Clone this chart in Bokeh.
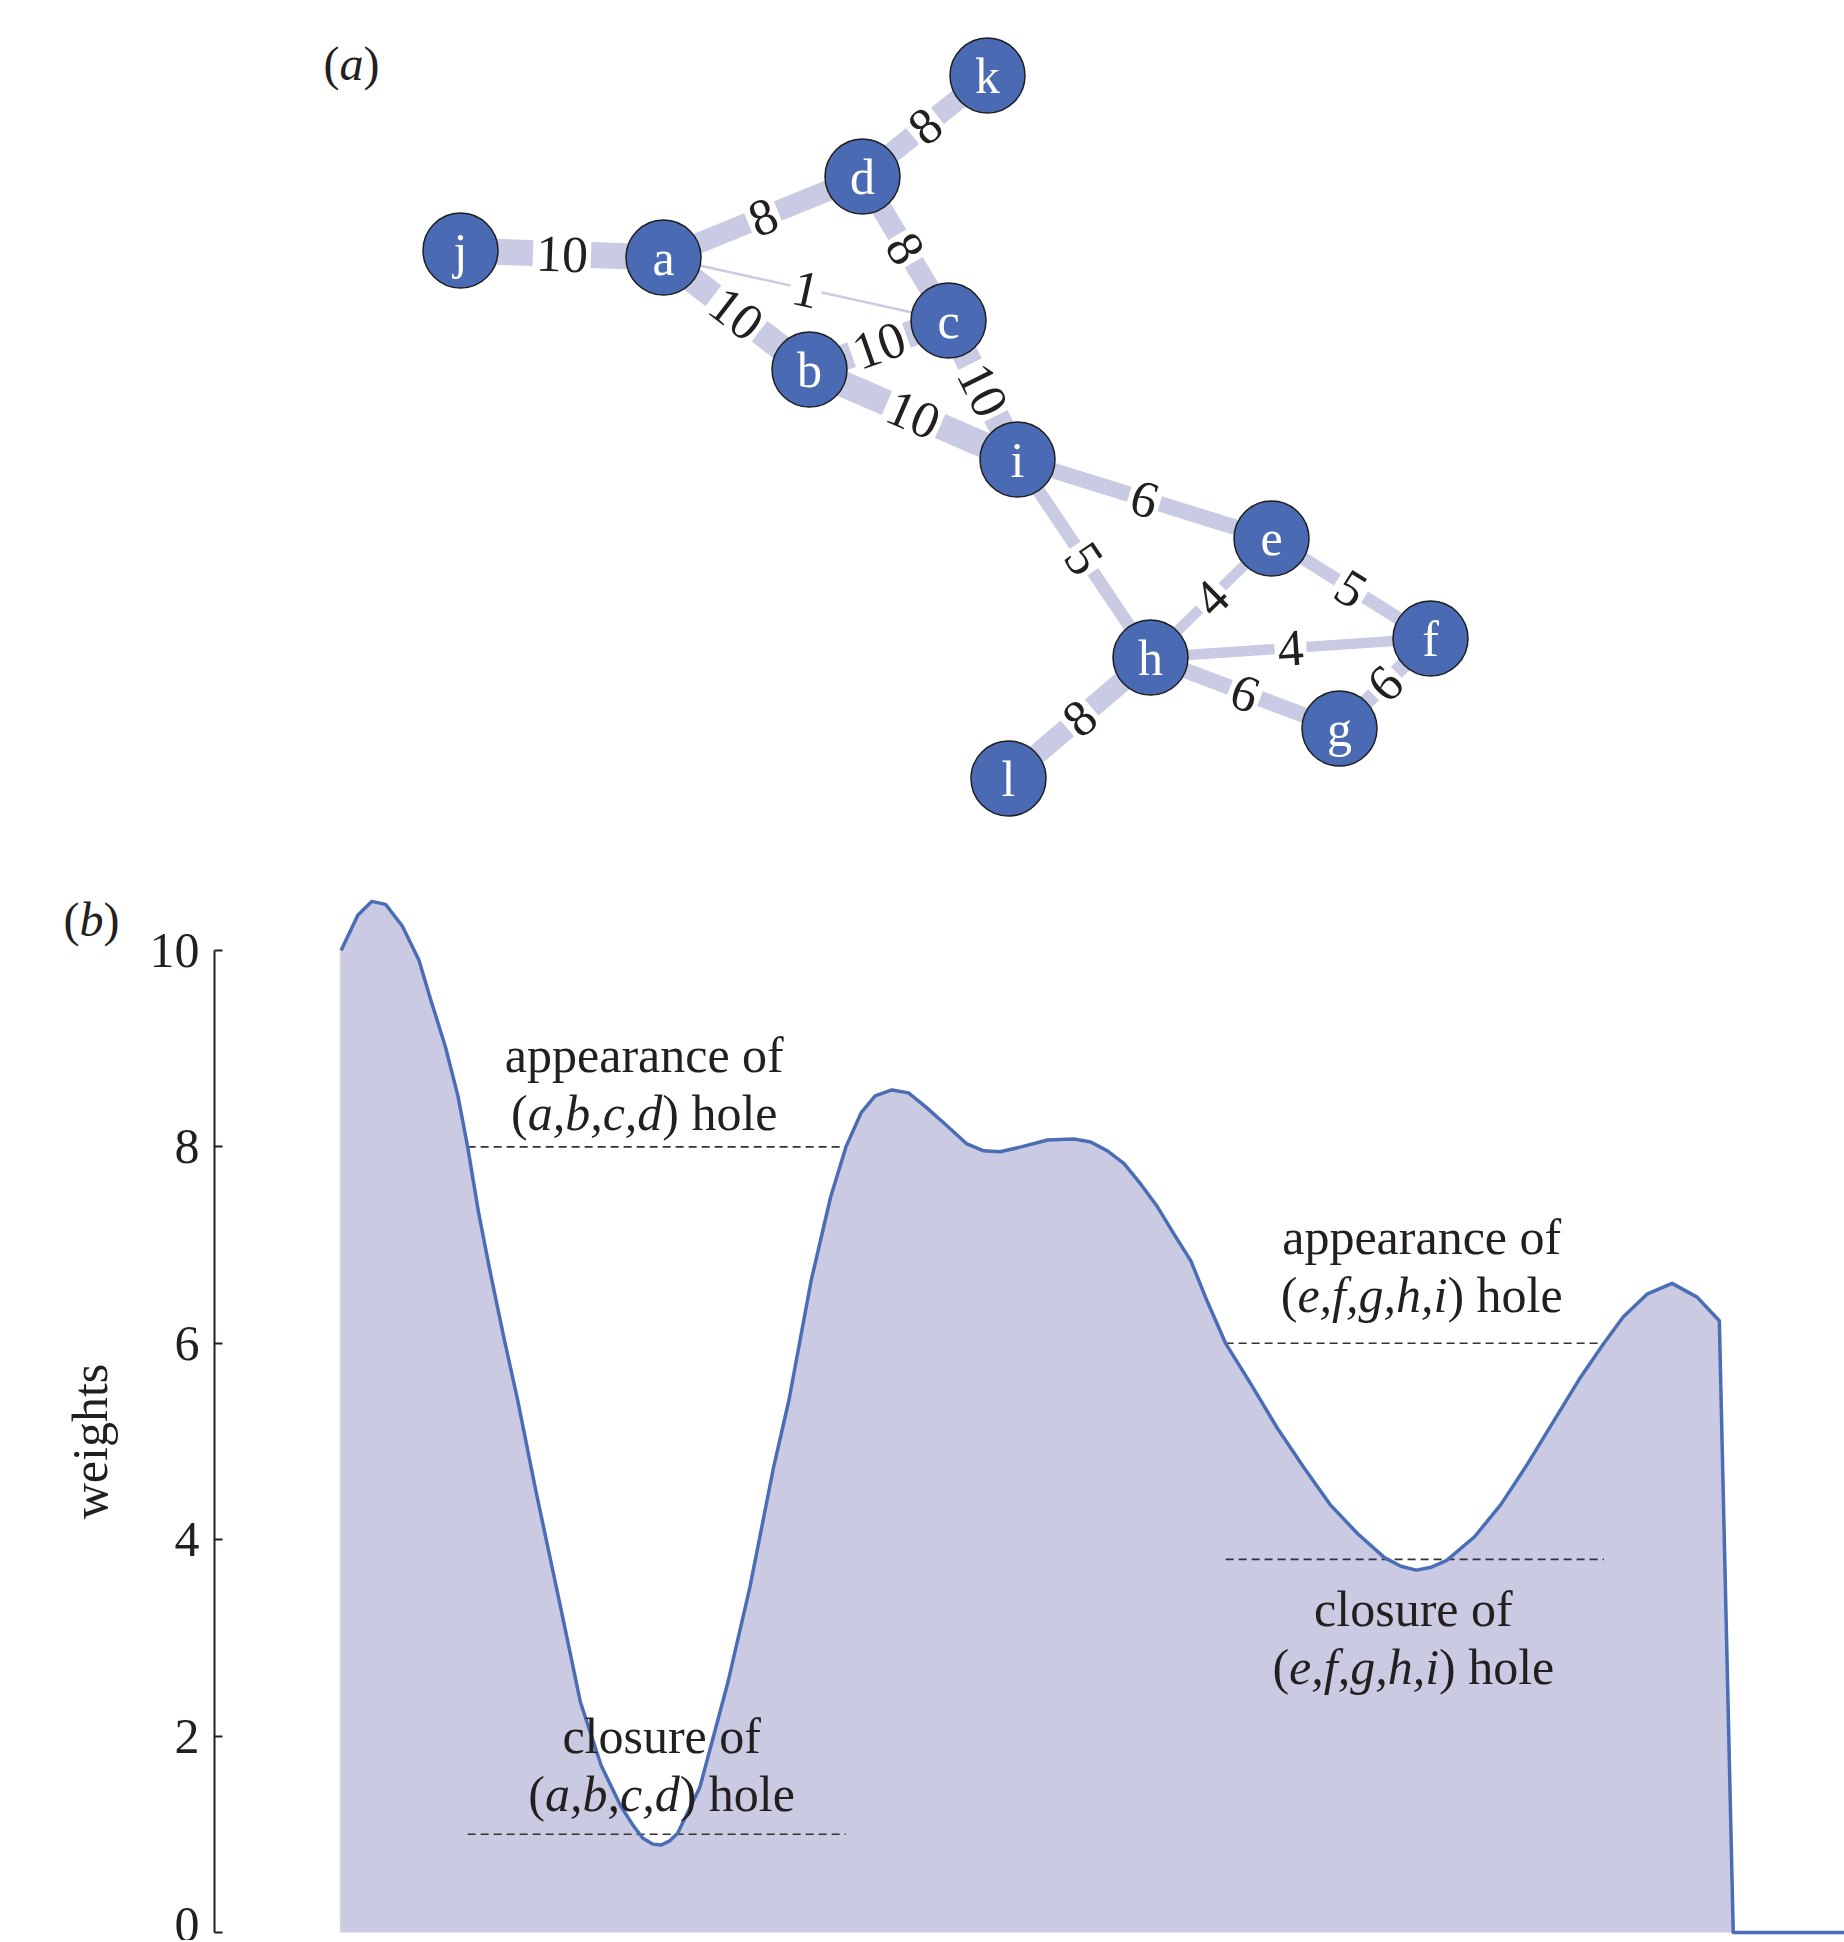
import math
from bokeh.plotting import figure
from bokeh.layouts import column
from bokeh.models import Range1d, FixedTicker, ColumnDataSource
from bokeh.embed import file_html
from bokeh.resources import INLINE
from bokeh.core.properties import value

# ---------------- panel (a): weighted graph ----------------
node_names = ["j", "a", "d", "k", "c", "b", "i", "e", "f", "h", "g", "l"]
node_x = [452, 655, 854, 979, 940, 801, 1009, 1263, 1422, 1142, 1331, 1000]
node_y = [608, 601, 682, 783, 538, 489, 399, 320, 220, 201, 130, 80]

edge_src = ["j", "a", "d", "d", "a", "a", "b", "c", "b", "i", "i", "e", "e", "h", "h", "g", "h"]
edge_dst = ["a", "d", "k", "c", "c", "b", "c", "i", "i", "e", "h", "h", "f", "f", "g", "f", "l"]
edge_weight = [10, 8, 8, 8, 1, 10, 10, 10, 10, 6, 5, 4, 5, 4, 6, 6, 8]

# ---------------- panel (b): weights along filtration ----------------
filtration = [0.0, 1.2, 2.2, 3.2, 4.4, 5.6, 6.4, 7.5, 8.4, 9.1, 9.9, 10.7, 11.7, 12.7,
              14.0, 15.8, 17.2, 18.7, 20.1, 21.0, 21.7, 22.4, 23.0, 23.6, 24.2, 25.8,
              27.8, 29.4, 31.1, 32.2, 33.8, 35.2, 36.3, 37.4, 38.4, 39.6, 40.8, 42.1,
              43.6, 45.0, 46.2, 47.4, 48.9, 50.8, 52.7, 53.9, 55.1, 56.3, 57.5, 58.7,
              59.9, 61.1, 62.3, 63.6, 65.4, 67.3, 69.2, 71.1, 73.1, 75.0, 76.2, 77.3,
              78.4, 79.5, 81.5, 83.4, 85.3, 87.2, 89.1, 90.8, 92.2, 93.9, 95.7, 97.5,
              99.1, 100.1, 109.0]
weights = [10.00, 10.36, 10.50, 10.47, 10.25, 9.90, 9.52, 9.02, 8.52, 8.00, 7.32, 6.74,
           6.06, 5.42, 4.50, 3.30, 2.35, 1.70, 1.29, 1.09, 0.96, 0.90, 0.89, 0.93, 1.01,
           1.48, 2.54, 3.52, 4.74, 5.42, 6.64, 7.49, 8.00, 8.35, 8.52, 8.58, 8.55, 8.40,
           8.21, 8.03, 7.96, 7.95, 8.00, 8.07, 8.08, 8.05, 7.96, 7.83, 7.62, 7.39, 7.11,
           6.84, 6.42, 6.00, 5.59, 5.14, 4.74, 4.36, 4.06, 3.82, 3.73, 3.69, 3.72, 3.79,
           4.03, 4.36, 4.77, 5.21, 5.65, 6.00, 6.27, 6.50, 6.61, 6.47, 6.23, 0.00, 0.00]
ytick_values = [0, 2, 4, 6, 8, 10]

hole_level = [8.0, 1.0, 6.0, 3.8]
hole_start = [9.1, 9.1, 63.6, 63.6]
hole_end = [36.3, 36.3, 90.8, 90.8]

annot_first = ["appearance of", "closure of", "appearance of", "closure of"]
annot_members = ["a,b,c,d", "a,b,c,d", "e,f,g,h,i", "e,f,g,h,i"]
annot_x = [21.8, 23.05, 77.7, 77.1]
annot_y = [8.94, 2.00, 7.08, 3.29]

# ---------------- styling ----------------
FONT = "Liberation Serif"
INK = "#231F20"
EDGE = "#C9CAE3"
FILL = "#CACBE3"
NODE = "#4A6BB3"
BLUE = "#4A6DB5"

W = 1844
HA = 858
HB = 1082
PX_PER_W = 98.2           # screen px per weight unit in panel (b)
LINE_GAP = 58 / PX_PER_W  # second text line below first

ROMAN = {"(": 333, ")": 333, " ": 250, ",": 250, "a": 444, "b": 500, "c": 444, "d": 500,
         "e": 444, "f": 333, "g": 500, "h": 500, "i": 278, "l": 278, "n": 500, "o": 500,
         "p": 500, "r": 333, "s": 389, "t": 278, "u": 500, "w": 722}
ITALIC = {",": 250, "a": 500, "b": 500, "c": 444, "d": 500, "e": 444, "f": 278,
          "g": 500, "h": 500, "i": 278}


def seg_width(s, italic, size):
    tbl = ITALIC if italic else ROMAN
    return sum(tbl.get(ch, 500) for ch in s) * size / 1000.0


def layout_parts(parts, size, centered=True):
    widths = [seg_width(s, it, size) for s, it in parts]
    off = -sum(widths) / 2.0 if centered else 0.0
    out = []
    for (s, it), wd in zip(parts, widths):
        out.append((s, it, off))
        off += wd
    return out


def mixed_text(p, xs, ys, parts_list, size, centered=True):
    rom = dict(x=[], y=[], text=[], xo=[])
    ita = dict(x=[], y=[], text=[], xo=[])
    for cx, cy, parts in zip(xs, ys, parts_list):
        for s, it, off in layout_parts(parts, size, centered):
            d = ita if it else rom
            d["x"].append(cx)
            d["y"].append(cy)
            d["text"].append(s)
            d["xo"].append(off)
    for d, style in ((rom, "normal"), (ita, "italic")):
        p.text(x="x", y="y", text="text", x_offset="xo", source=ColumnDataSource(d),
               text_font=value(FONT), text_font_size=f"{size}px", text_color=INK,
               text_font_style=style, text_align="left", text_baseline="alphabetic")


# ================= figure (a) =================
pa = figure(width=W, height=HA, x_range=Range1d(-8, W - 8), y_range=Range1d(0, HA),
            output_backend="svg", toolbar_location=None,
            x_axis_location=None, y_axis_location=None, min_border=0,
            outline_line_color=None)
pa.xgrid.visible = False
pa.ygrid.visible = False

pos = dict(zip(node_names, zip(node_x, node_y)))
ex0 = [pos[s][0] for s in edge_src]
ey0 = [pos[s][1] for s in edge_src]
ex1 = [pos[d][0] for d in edge_dst]
ey1 = [pos[d][1] for d in edge_dst]
ewidth = [2.6 * w for w in edge_weight]
pa.segment(x0=ex0, y0=ey0, x1=ex1, y1=ey1, line_width=ewidth,
           line_color=EDGE, line_cap="butt")

mx = [(a + b) / 2.0 for a, b in zip(ex0, ex1)]
my = [(a + b) / 2.0 for a, b in zip(ey0, ey1)]
angles = []
for x0, y0, x1, y1 in zip(ex0, ey0, ex1, ey1):
    ang = math.atan2(y1 - y0, x1 - x0)
    if ang > math.pi / 2:
        ang -= math.pi
    if ang < -math.pi / 2:
        ang += math.pi
    angles.append(ang)
pa.text(x=mx, y=my, text=[str(w) for w in edge_weight], angle=angles,
        text_font=value(FONT), text_font_size="52px", text_color=INK,
        text_align="center", text_baseline="middle",
        background_fill_color="white", padding=3)

pa.scatter(x=node_x, y=node_y, size=75, fill_color=NODE, line_color="#1E1E1E",
           line_width=1.5)
pa.text(x=node_x, y=node_y, text=node_names, text_font=value(FONT),
        text_font_size="50px", text_color="white", text_align="center",
        text_baseline="middle")

# panel tag "(a)"
mixed_text(pa, [315], [795], [[("(", False), ("a", True), (")", False)]], 48, centered=False)

# ================= figure (b) =================
T_START = -24.49
T_END = 108.1
AXIS_T = -9.10
pb = figure(width=W, height=HB, x_range=Range1d(T_START, T_END),
            y_range=Range1d(-0.0815, 10.937),
            output_backend="svg", toolbar_location=None,
            x_axis_location=None, y_axis_location="left",
            min_border=0, outline_line_color=None)
pb.xgrid.visible = False
pb.ygrid.visible = False

ax = pb.yaxis[0]
ax.fixed_location = AXIS_T
ax.ticker = FixedTicker(ticks=ytick_values)
ax.bounds = (0, 10)
ax.major_tick_in = 8
ax.major_tick_out = 0
ax.minor_tick_in = 0
ax.minor_tick_out = 0
ax.axis_line_width = 2
ax.axis_line_color = INK
ax.major_tick_line_width = 2
ax.major_tick_line_color = INK
ax.major_label_text_font = FONT
ax.major_label_text_font_size = "50px"
ax.major_label_text_color = INK
ax.major_label_standoff = 15

pb.varea(x=filtration, y1=0, y2=weights, fill_color=FILL)
pb.segment(x0=[filtration[0]], y0=[0], x1=[filtration[0]], y1=[weights[0]],
           line_color="#d4d4d4", line_width=2.5)
pb.segment(x0=hole_start, y0=hole_level, x1=hole_end, y1=hole_level,
           line_color="#333333", line_width=1.6, line_dash="8 5")
pb.line(x=filtration, y=weights, line_color=BLUE, line_width=3.5, line_join="round")

# annotations: first line roman, second line mixed roman/italic
pb.text(x=annot_x, y=annot_y, text=annot_first, text_font=value(FONT),
        text_font_size="50px", text_color=INK, text_align="center",
        text_baseline="alphabetic")
mixed_text(pb, annot_x, [y - LINE_GAP for y in annot_y],
           [[("(", False), (m, True), (") hole", False)] for m in annot_members], 50)

# y axis title and panel tag "(b)"
pb.text(x=[-18.09], y=[5.0], text=["weights"], angle=math.pi / 2,
        text_font=value(FONT), text_font_size="50px", text_color=INK,
        text_align="center", text_baseline="middle")
mixed_text(pb, [-19.96], [10.32], [[("(", False), ("b", True), (")", False)]], 48,
           centered=False)

layout = column(pa, pb)
open("out.html", "w").write(file_html(layout, INLINE))
